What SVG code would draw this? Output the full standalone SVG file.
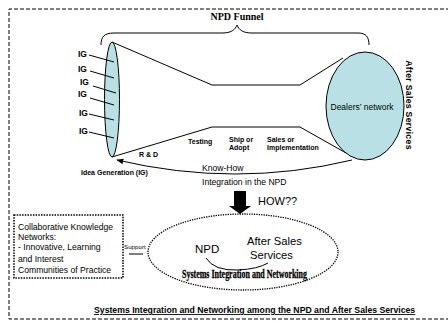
<svg xmlns="http://www.w3.org/2000/svg" width="448" height="330" viewBox="0 0 448 330">
<defs>
<style>
.s{font-family:"Liberation Sans",Arial,sans-serif;fill:#000}
.b{font-weight:bold}
.ln{stroke:#000;stroke-width:1;fill:none}
.blue{fill:#b9e0e4;stroke:#000;stroke-width:1}
.lab{font-size:7px;font-weight:bold}
.ig{font-size:8.5px;font-weight:bold}
</style>
<marker id="ah" viewBox="0 0 10 10" refX="9" refY="5" markerWidth="7" markerHeight="7" orient="auto" markerUnits="userSpaceOnUse">
<path d="M0,1 L10,5 L0,9 Z" fill="#000"/>
</marker>
</defs>
<rect width="448" height="330" fill="#fff"/>
<path d="M450,9 H9 V319 H450" fill="none" stroke="#000" stroke-width="1" stroke-dasharray="4 2"/>

<g id="funnel-label">
<path class="ln" d="M101,45 C101,37 104,33 114,33 L222,33 C231,33 235,30 237,25 C239,30 243,33 252,33 L358,33 C366,33 369,37 369,45"/>
<text x="237" y="20" text-anchor="middle" style="font-family:'Liberation Serif','Times New Roman',serif;font-weight:bold;font-size:10px">NPD Funnel</text>
</g>

<g id="funnel">
<path class="ln" d="M112,42 L212,85 L300,85 L343,58"/>
<path class="ln" d="M112,157 L212,127 L300,127 L346,153"/>
</g>

<g id="idea-generation">
<ellipse class="blue" cx="112" cy="99.5" rx="7.5" ry="57.5"/>
<text class="s lab" x="81" y="174.5">Idea Generation (IG)</text>
</g>

<g id="dealers-network">
<ellipse class="blue" cx="365" cy="106" rx="39" ry="54"/>
<text class="s" x="362" y="110" text-anchor="middle" font-size="8.5">Dealers’ network</text>
</g>

<g id="after-sales-label">
<text class="s b" transform="translate(406,105) rotate(90)" text-anchor="middle" font-size="8.7" letter-spacing="0.3">After Sales Services</text>
</g>

<g id="ig-labels">
<text class="s ig" x="78" y="57">IG</text>
<text class="s ig" x="78" y="72">IG</text>
<text class="s ig" x="80" y="85">IG</text>
<text class="s ig" x="78" y="97">IG</text>
<text class="s ig" x="79" y="116">IG</text>
<text class="s ig" x="79" y="134">IG</text>
</g>

<g id="stages">
<text class="s lab" x="139" y="156.5">R &amp; D</text>
<text class="s lab" x="188" y="143.5">Testing</text>
<text class="s lab" x="229" y="141.5">Ship or</text>
<text class="s lab" x="229" y="149.5">Adopt</text>
<text class="s lab" x="267" y="141.5">Sales or</text>
<text class="s lab" x="267" y="149.5">Implementation</text>
</g>

<g id="connectors">
<path class="ln" d="M89,55 L114,62 M90,71 L114,78 M93,86 L116,93 M90,98 L114,105 M89,114 L114,120 M89,132 L114,138"/>
<path class="ln" d="M352,160 Q236,188 117,160" marker-end="url(#ah)"/>
<path d="M234,191 H246 V206 H251 L240,214 L229,206 H234 Z" fill="#000"/>
<path class="ln" d="M129,254 H143"/>
<path class="ln" d="M206,258 Q214,271 238,270 Q258,269 268,263"/>
</g>

<g id="know-how">
<text class="s" x="202" y="171" font-size="8.6">Know-How</text>
<text class="s" x="202" y="184.5" font-size="8.6">Integration in the NPD</text>
<text class="s" x="258" y="205" font-size="11">HOW??</text>
</g>

<g id="knowledge-networks">
<rect x="14" y="215" width="109" height="63" fill="none" stroke="#000" stroke-width="1.5" stroke-dasharray="1.5 1.2"/>
<text class="s" font-size="8.6">
<tspan x="18" y="230">Collaborative Knowledge</tspan>
<tspan x="18" y="239.5">Networks:</tspan>
<tspan x="18" y="250">- Innovative, Learning</tspan>
<tspan x="18" y="261.5">and Interest</tspan>
<tspan x="18" y="273">Communities of Practice</tspan>
</text>
<text class="s" x="124" y="248.5" font-size="6.2">Support</text>
</g>

<g id="systems-integration">
<ellipse cx="243" cy="252" rx="95" ry="38" fill="none" stroke="#000" stroke-width="1.3" stroke-dasharray="1.3 1.1"/>
<text class="s" x="195" y="253" font-size="11.5">NPD</text>
<text class="s" x="247" y="245" font-size="11.2">After Sales</text>
<text class="s" x="250" y="259" font-size="11.2">Services</text>
<text x="182" y="278" textLength="125" lengthAdjust="spacingAndGlyphs" stroke="#000" stroke-width="0.3" style="font-family:'Liberation Serif','Times New Roman',serif;font-weight:bold;font-size:12px">Systems Integration and Networking</text>
</g>

<g id="title">
<text class="s b" x="94" y="313" font-size="8.7" text-decoration="underline">Systems Integration and Networking among the NPD and After Sales Services</text>
</g>
</svg>
